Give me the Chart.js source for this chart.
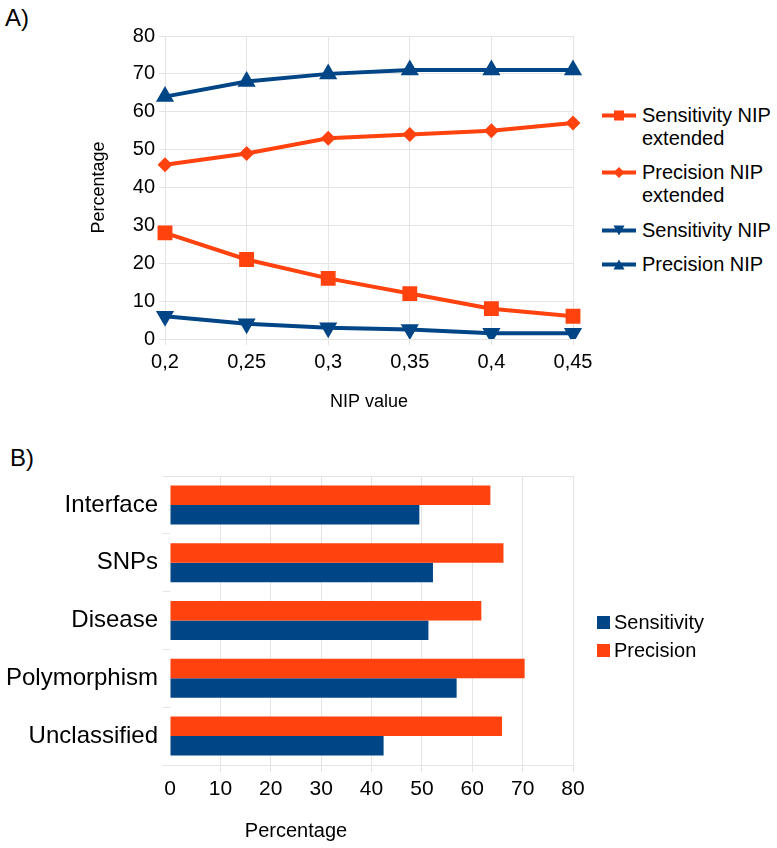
<!DOCTYPE html>
<html>
<head>
<meta charset="utf-8">
<script src="https://cdn.jsdelivr.net/npm/chart.js@4.4.1/dist/chart.umd.min.js"></script>
<style>
  body { margin: 0; background: #fff; font-family: 'Liberation Sans', Arial, sans-serif; color: #000; }
  #page { position: relative; width: 777px; height: 848px; overflow: hidden; }
  .panel { position: absolute; font-size: 24px; line-height: 24px; }
  .legend { position: absolute; font-size: 20px; line-height: 23px; }
  .legend .item { display: flex; align-items: flex-start; margin-bottom: 11.5px; }
  .legend .item svg { flex: none; margin-right: 6px; }
  .legend .item span { width: 134px; }
  #legendB { line-height: 28px; }
  #legendB .item { margin-bottom: 0; align-items: center; }
  #legendB .box { width: 13px; height: 13px; margin-right: 4px; flex: none; }
  .axisTitle { position: absolute; font-size: 20px; line-height: 24px; transform: translateX(-50%); }
</style>
</head>
<body>
<div id="page">
  <div class="panel" style="left:5px; top:6px;">A)</div>
  <canvas id="chartA" width="600" height="420" style="position:absolute; left:0; top:0;"></canvas>
  <div class="legend" id="legendA" style="left:602px; top:103.5px;"></div>

  <div class="panel" style="left:10px; top:446px;">B)</div>
  <canvas id="chartB" width="600" height="408" style="position:absolute; left:0; top:440px;"></canvas>
  <div class="legend" id="legendB" style="left:597px; top:608px;"></div>
  <div class="axisTitle" style="left:296px; top:818px;">Percentage</div>
</div>

<script>
'use strict';

const ORANGE = '#ff420e';
const BLUE = '#004586';
const GRID = '#e4e4e4';

// --- chart A: NIP value thresholds
const nipValues = ['0,2', '0,25', '0,3', '0,35', '0,4', '0,45'];
const sensNipExt = [28, 21, 16, 12, 8, 6];
const precNipExt = [46, 49, 53, 54, 55, 57];
const sensNip = [6, 4, 3, 2.5, 1.5, 1.5];
const precNip = [64, 68, 70, 71, 71, 71];
const percentTicksA = [0, 10, 20, 30, 40, 50, 60, 70, 80];

// --- chart B: categories
const categories = ['Interface', 'SNPs', 'Disease', 'Polymorphism', 'Unclassified'];
const sensitivity = [49.5, 52.2, 51.3, 56.9, 42.4];
const precision = [63.6, 66.2, 61.8, 70.4, 65.9];

Chart.defaults.font.family = "'Liberation Sans', Arial, sans-serif";
Chart.defaults.color = '#000';

const seriesA = [
  { label: 'Sensitivity NIP extended', data: sensNipExt, color: ORANGE, style: 'rect', radius: 10.5, rot: 0 },
  { label: 'Precision NIP extended', data: precNipExt, color: ORANGE, style: 'rectRot', radius: 7.5, rot: 0 },
  { label: 'Sensitivity NIP', data: sensNip, color: BLUE, style: 'triangle', radius: 10.5, rot: 180 },
  { label: 'Precision NIP', data: precNip, color: BLUE, style: 'triangle', radius: 10.5, rot: 0 }
];

function renderChartA() {
  new Chart(document.getElementById('chartA'), {
    type: 'line',
    data: {
      labels: nipValues,
      datasets: seriesA.map(s => ({
        label: s.label,
        data: s.data,
        borderColor: s.color,
        backgroundColor: s.color,
        borderWidth: 4,
        pointStyle: s.style,
        pointRadius: s.radius,
        pointRotation: s.rot,
        pointBorderWidth: 0,
        tension: 0
      }))
    },
    options: {
      responsive: false,
      animation: false,
      layout: { padding: { top: 36, right: 27, left: 0, bottom: 0 } },
      plugins: { legend: { display: false }, tooltip: { enabled: false } },
      scales: {
        x: {
          grid: { color: GRID, tickLength: 6 },
          border: { color: GRID },
          ticks: { font: { size: 20 }, padding: 5, maxRotation: 0 },
          title: { display: true, text: 'NIP value', font: { size: 18 }, padding: { top: 0, bottom: 7 } },
          afterFit: scale => { scale.height = 81; }
        },
        y: {
          min: 0,
          max: 80,
          afterBuildTicks: scale => { scale.ticks = percentTicksA.map(v => ({ value: v })); },
          grid: { color: GRID, tickLength: 6 },
          border: { color: GRID },
          ticks: { font: { size: 20 }, padding: 4 },
          title: { display: true, text: 'Percentage', font: { size: 18 }, padding: { top: 88, bottom: 0 } },
          afterFit: scale => { scale.width = 165; }
        }
      }
    }
  });
}

function markerSvg(s) {
  const c = s.color;
  let shape = '';
  if (s.style === 'rect') shape = `<rect x="12" y="6.5" width="10" height="10" fill="${c}"/>`;
  else if (s.style === 'rectRot') shape = `<polygon points="17,6 22.5,11.5 17,17 11.5,11.5" fill="${c}"/>`;
  else if (s.rot === 180) shape = `<polygon points="11.5,6.5 22.5,6.5 17,16.5" fill="${c}"/>`;
  else shape = `<polygon points="17,6.5 22.5,16.5 11.5,16.5" fill="${c}"/>`;
  return `<svg width="34" height="23"><line x1="0" y1="11.5" x2="34" y2="11.5" stroke="${c}" stroke-width="4"/>${shape}</svg>`;
}

function renderLegendA() {
  document.getElementById('legendA').innerHTML = seriesA
    .map(s => `<div class="item">${markerSvg(s)}<span>${s.label}</span></div>`)
    .join('');
}

function renderChartB() {
  new Chart(document.getElementById('chartB'), {
    type: 'bar',
    data: {
      labels: categories,
      datasets: [{
        label: 'Precision',
        data: precision,
        backgroundColor: ORANGE,
        categoryPercentage: 0.675,
        barPercentage: 1
      }, {
        label: 'Sensitivity',
        data: sensitivity,
        backgroundColor: BLUE,
        categoryPercentage: 0.675,
        barPercentage: 1
      }]
    },
    options: {
      indexAxis: 'y',
      responsive: false,
      animation: false,
      layout: { padding: { top: 36, right: 27, left: 0, bottom: 0 } },
      plugins: { legend: { display: false }, tooltip: { enabled: false } },
      scales: {
        x: {
          min: 0,
          max: 80,
          ticks: { stepSize: 10, font: { size: 21 }, padding: 5 },
          grid: {
            color: ctx => ctx.index === 0 ? 'rgba(0,0,0,0)' : GRID,
            tickLength: 7
          },
          border: { color: GRID },
          afterFit: scale => { scale.height = 83; }
        },
        y: {
          ticks: { font: { size: 24 }, padding: 5 },
          grid: {
            color: ctx => ctx.index === 0 ? GRID : 'rgba(0,0,0,0)',
            tickColor: GRID,
            tickLength: 7
          },
          border: { display: false },
          afterFit: scale => { scale.width = 170; }
        }
      }
    }
  });
}

function renderLegendB() {
  const items = [['Sensitivity', BLUE], ['Precision', ORANGE]];
  document.getElementById('legendB').innerHTML = items
    .map(([name, c]) => `<div class="item"><div class="box" style="background:${c}"></div><span>${name}</span></div>`)
    .join('');
}

renderChartA();
renderLegendA();
renderChartB();
renderLegendB();
</script>
</body>
</html>
